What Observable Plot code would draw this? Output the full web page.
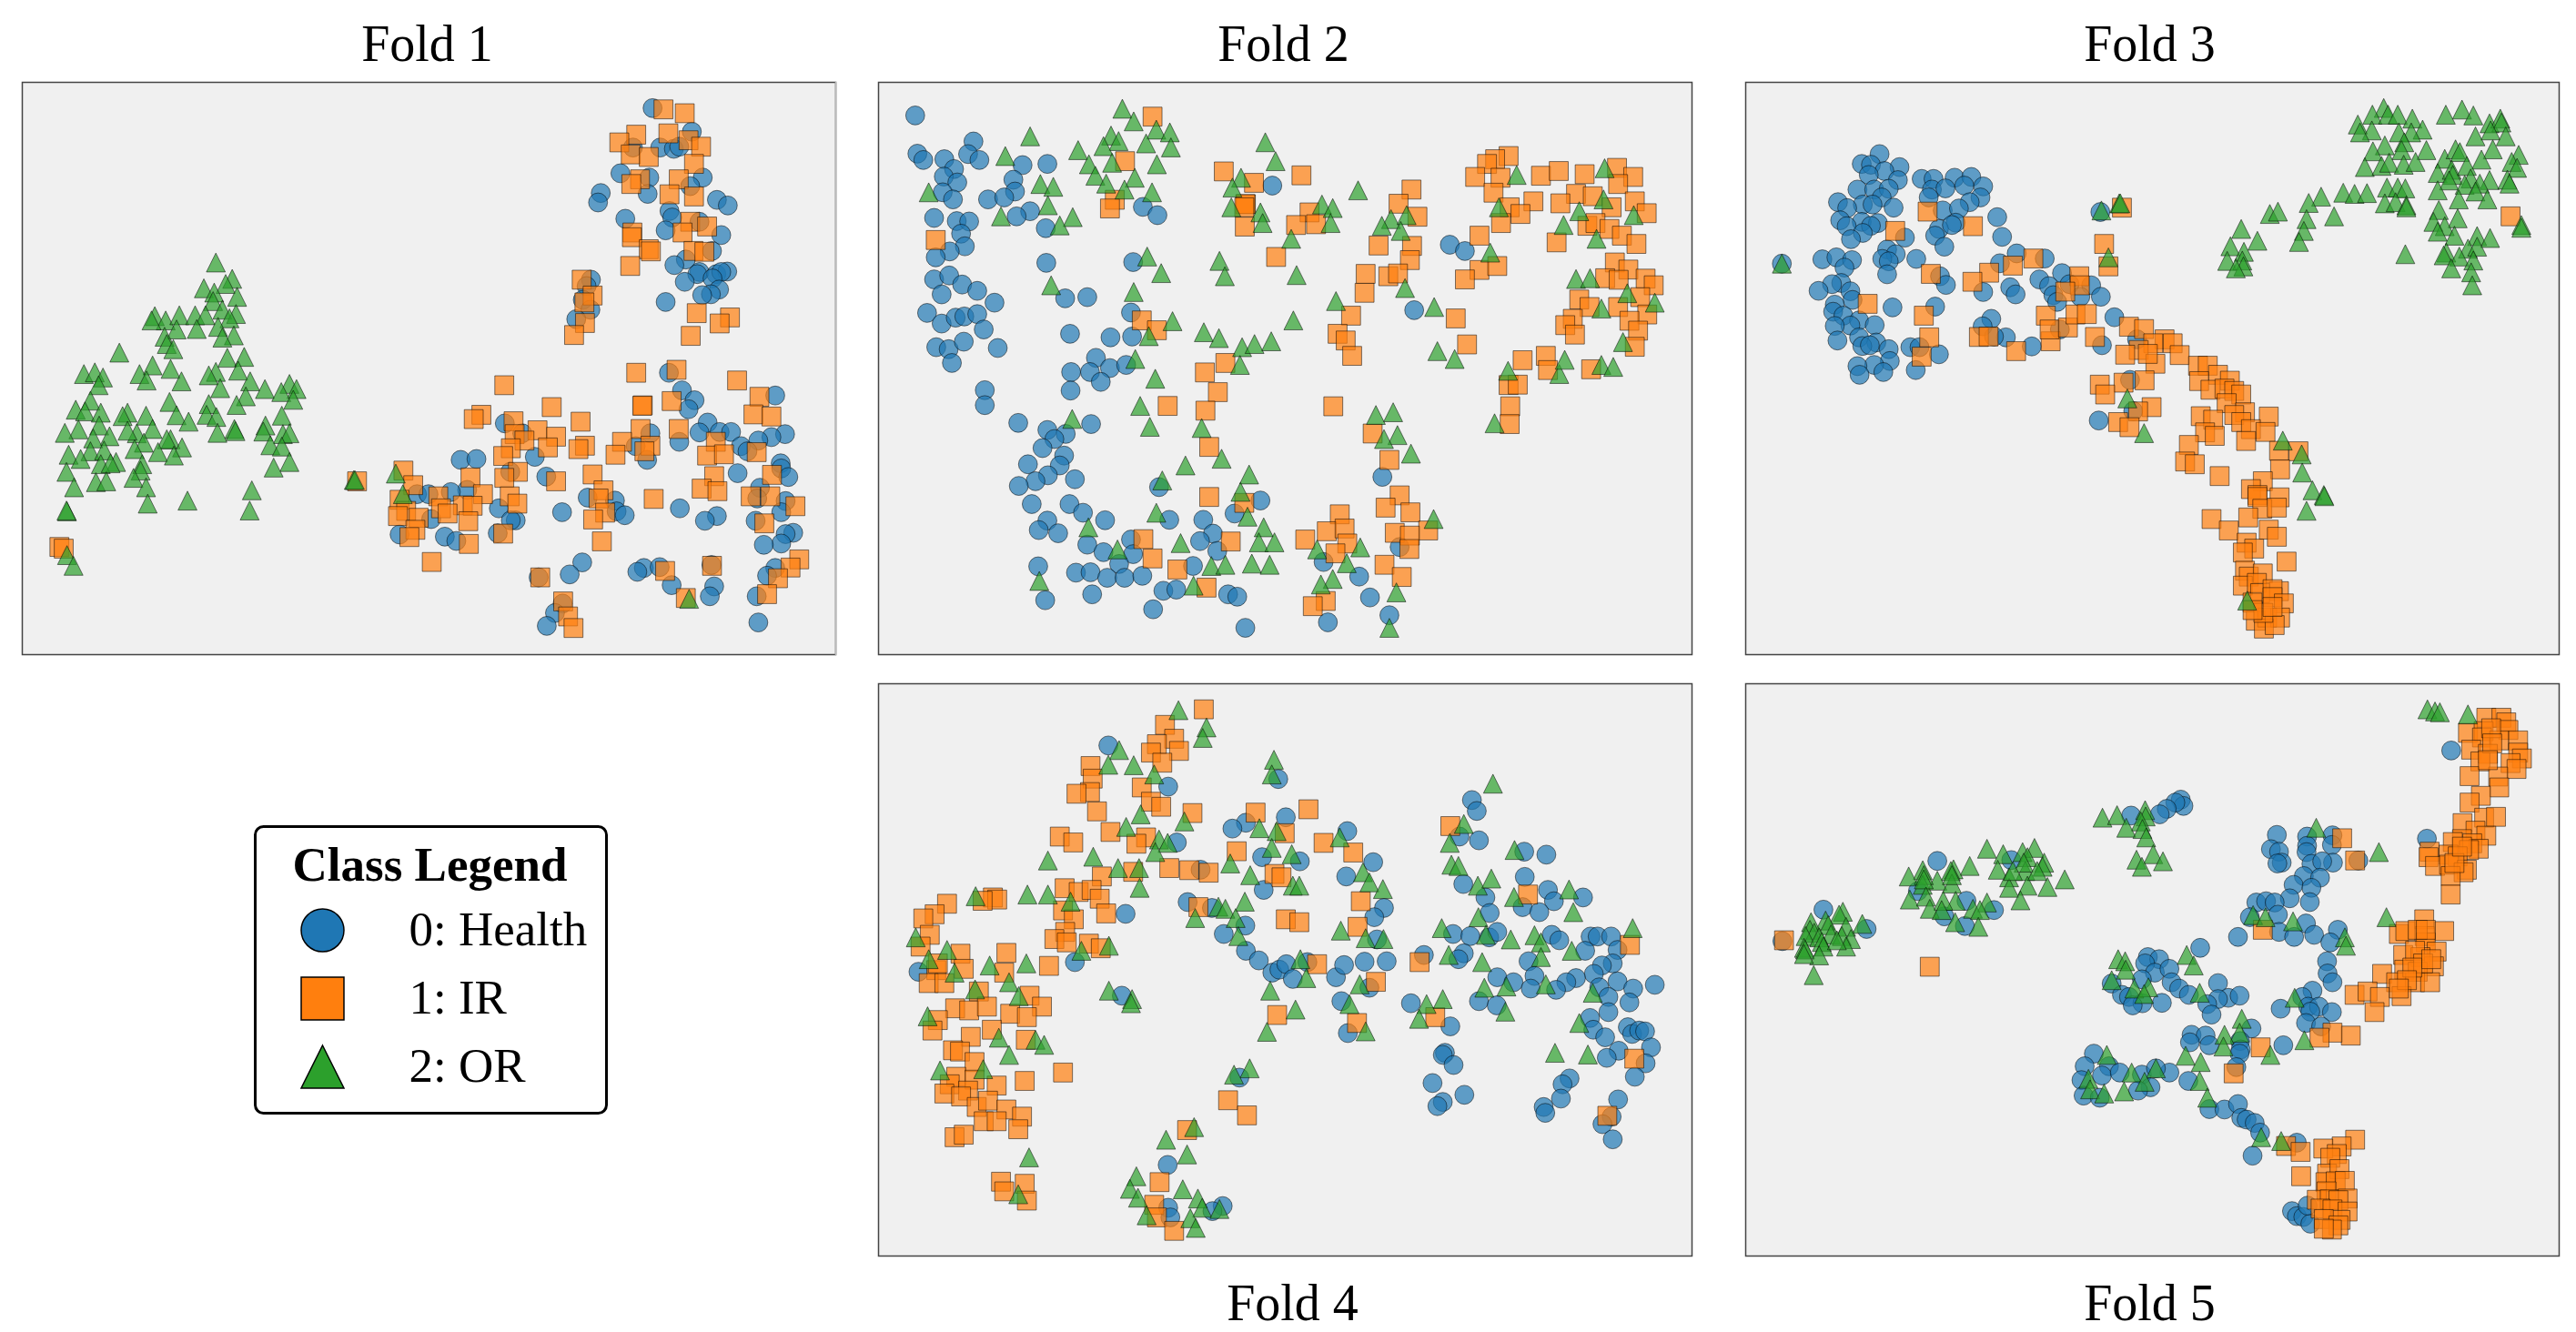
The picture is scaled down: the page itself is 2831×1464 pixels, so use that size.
<!DOCTYPE html>
<html>
<head>
<meta charset="utf-8">
<script src="https://cdn.jsdelivr.net/npm/d3@7"></script>
<script src="https://cdn.jsdelivr.net/npm/@observablehq/plot@0.6"></script>
<style>
html,body{margin:0;padding:0;background:#fff;}
#page{position:relative;width:2831px;height:1464px;overflow:hidden;}
#page>div{position:absolute;}
</style>
</head>
<body>
<div id="page"></div>
<script>
// Data, one list per fold and class.
const fold1Health=[[1196,250],[1268,305],[1210,342],[1235,345],[1245,340],[1160,342],[1137,402],[1190,412],[1288,412],[1265,432],[1187,450],[1101,448],[1096,470],[1314,464],[1334,477],[1227,490],[1232,505],[1146,508],[1220,535],[1282,515],[1322,546],[1305,583],[1257,603],[1236,616],[1282,632],[1278,637],[1313,637],[1333,631],[1322,632],[1255,655],[1306,647],[1318,673],[1303,684],[1287,686],[1220,702],[1083,650],[1075,665],[1068,697],[1082,720],[1056,742],[1226,867],[1250,908],[1273,931],[1262,952],[1421,920],[925,985],[957,1008],[1192,1008],[1297,983],[1282,1006],[1319,1005],[1340,1005],[1439,1010],[1414,1017],[1390,1025],[1245,1028],[1165,1038],[1358,1038],[1370,1050],[1186,1070],[844,1070],[873,1068],[980,1063],[1431,1078],[1432,1090],[1352,1101],[935,1098],[1001,1109],[1445,1110],[1393,1135],[1388,1160],[856,1140],[764,1150],[785,1150],[826,1145],[1440,1166],[1077,1158],[1127,1165],[1130,1190],[914,1183],[1030,1192],[1246,1183],[1145,1199],[1314,1201],[1292,1212],[1432,1192],[1385,1212],[790,1208],[945,1211],[936,1211],[912,1241],[732,1244],[815,1249],[836,1259],[1454,1240],[1440,1243],[1432,1265],[1400,1268],[1067,1309],[1044,1337],[987,1344],[1180,1322],[1168,1331],[1209,1320],[1231,1362],[1304,1315],[1309,1365],[1301,1388],[1421,1322],[1406,1340],[1387,1388],[1031,1405],[1017,1427],[1002,1457],[1390,1449]];
const fold1IR=[[1216,253],[1255,262],[1166,312],[1135,330],[1225,309],[1262,325],[1285,340],[1156,358],[1189,364],[1272,380],[1173,416],[1157,427],[1244,416],[1227,451],[1272,456],[1265,515],[1296,526],[1159,540],[1158,551],[1251,540],[1189,579],[1193,584],[1271,583],[1291,585],[1155,618],[1066,650],[1086,687],[1071,703],[1072,751],[1052,779],[1277,728],[1338,738],[1319,752],[1266,781],[1240,860],[1166,867],[1351,885],[924,896],[1392,923],[1231,933],[882,965],[868,975],[1011,947],[1178,943],[1177,944],[1381,964],[1414,969],[941,980],[1064,981],[985,1001],[1244,998],[1174,998],[1019,1016],[943,1010],[961,1025],[1312,1028],[1140,1028],[936,1043],[1004,1041],[1072,1037],[1060,1045],[1192,1037],[1181,1050],[1128,1058],[922,1061],[1296,1060],[1327,1057],[1387,1052],[739,1095],[949,1098],[924,1112],[862,1111],[1086,1104],[1019,1120],[1415,1105],[1309,1108],[757,1129],[1106,1141],[1286,1137],[1315,1143],[1376,1155],[1412,1155],[934,1155],[885,1150],[803,1155],[1097,1160],[732,1163],[948,1172],[1458,1178],[848,1176],[866,1177],[808,1183],[820,1195],[1198,1161],[1109,1193],[744,1189],[729,1201],[767,1205],[858,1213],[1087,1209],[1401,1218],[761,1233],[750,1250],[922,1242],[859,1266],[1103,1260],[791,1308],[990,1344],[1465,1302],[1449,1321],[1426,1346],[1219,1329],[1305,1317],[1406,1383],[1257,1392],[1032,1400],[1041,1435],[1051,1462],[108,1273],[116,1277],[654,1120]];
const fold1OR=[[395,610],[425,648],[413,660],[373,670],[434,690],[392,680],[390,700],[407,720],[283,735],[303,745],[328,733],[277,745],[357,733],[376,733],[432,730],[420,740],[323,766],[360,765],[399,760],[301,783],[428,780],[407,785],[305,800],[317,812],[218,820],[416,832],[447,830],[279,850],[312,858],[255,870],[268,885],[395,865],[382,873],[436,862],[153,870],[173,866],[188,878],[332,887],[458,887],[485,905],[180,896],[403,903],[530,893],[543,905],[515,912],[537,930],[450,922],[433,942],[310,935],[165,932],[138,953],[155,957],[184,960],[382,940],[233,960],[224,968],[267,967],[378,965],[396,970],[516,967],[323,966],[345,981],[181,990],[143,999],[118,1007],[279,998],[250,1008],[233,1002],[429,998],[431,1003],[398,1007],[486,990],[482,1004],[200,1015],[170,1020],[518,1010],[530,1008],[263,1030],[312,1022],[305,1022],[333,1041],[246,1045],[495,1036],[516,1039],[125,1058],[165,1050],[190,1048],[147,1068],[289,1052],[318,1060],[212,1075],[184,1080],[202,1078],[260,1080],[530,1075],[501,1088],[121,1098],[257,1095],[244,1112],[175,1122],[194,1120],[135,1134],[267,1134],[461,1141],[270,1172],[343,1165],[122,1190],[121,1188],[457,1188],[122,1292],[134,1317],[648,1117],[650,1117],[725,1102],[738,1150],[1263,1394]];

const fold2Health=[[93,152],[201,218],[97,249],[108,265],[147,263],[191,250],[212,265],[165,288],[146,307],[171,322],[292,278],[338,275],[275,315],[278,345],[144,347],[163,365],[228,365],[258,360],[128,412],[170,420],[193,421],[306,395],[281,408],[335,438],[515,384],[542,405],[755,330],[178,452],[185,484],[157,497],[131,512],[336,526],[497,524],[128,568],[156,558],[180,581],[142,606],[208,597],[240,627],[371,616],[412,613],[115,653],[142,680],[168,665],[184,662],[208,656],[220,695],[493,652],[380,706],[455,715],[495,713],[132,740],[155,745],[183,726],[246,742],[161,780],[428,767],[382,803],[417,803],[454,793],[484,785],[437,828],[381,850],[222,849],[222,887],[284,932],[338,950],[419,935],[372,960],[351,973],[329,996],[369,1015],[302,1037],[361,1040],[339,1065],[316,1080],[389,1075],[285,1092],[309,1138],[379,1138],[404,1160],[445,1179],[338,1180],[322,1204],[358,1212],[545,1095],[733,1129],[685,1162],[564,1178],[627,1178],[645,1213],[621,1232],[493,1228],[497,1265],[412,1241],[442,1260],[653,1257],[471,1290],[608,1295],[321,1296],[391,1312],[418,1311],[449,1325],[481,1325],[514,1320],[553,1358],[577,1355],[673,1367],[690,1373],[421,1367],[334,1382],[534,1405],[705,1452],[850,1285],[916,1322],[936,1375],[858,1438],[972,1420],[991,1247],[959,1069],[1018,646],[1084,480],[1112,496]];
const fold2IR=[[533,155],[482,268],[665,294],[721,323],[809,304],[463,366],[454,388],[706,377],[705,377],[703,385],[824,398],[799,430],[836,428],[704,434],[131,468],[762,511],[1013,340],[989,376],[1024,409],[952,482],[1014,483],[1010,519],[928,554],[970,560],[988,553],[926,602],[901,660],[513,672],[541,697],[876,706],[891,723],[903,762],[1095,667],[1116,733],[668,780],[630,804],[654,854],[561,889],[631,901],[868,890],[941,959],[638,993],[972,1026],[991,1116],[965,1147],[638,1120],[703,1135],[1011,1159],[880,1164],[856,1207],[889,1200],[894,1238],[816,1228],[678,1233],[516,1227],[533,1276],[872,1263],[579,1304],[1044,1205],[982,1211],[1010,1218],[1009,1252],[963,1292],[995,1323],[633,1350],[854,1384],[830,1397],[1193,255],[1168,263],[1153,275],[1131,308],[1178,310],[1165,348],[1253,305],[1286,293],[1334,301],[1394,285],[1424,308],[1396,326],[1318,351],[1349,357],[1239,370],[1289,375],[1195,385],[1427,370],[1384,385],[1215,402],[1449,400],[1179,425],[1339,432],[1354,425],[1380,440],[1403,457],[1282,474],[1430,478],[1139,457],[1390,525],[1415,543],[1139,544],[1172,534],[1112,568],[1372,565],[1397,569],[1447,566],[1462,583],[1437,613],[1324,619],[1343,638],[1396,638],[1450,657],[1417,673],[1312,668],[1298,684],[1433,698],[1316,708],[1427,739],[1219,773],[1262,762],[1266,798],[1346,796],[1193,836],[1210,835],[1196,890],[1195,935]];
const fold2OR=[[477,135],[498,167],[540,188],[565,195],[306,205],[456,203],[470,217],[442,230],[395,240],[521,223],[567,233],[260,255],[415,276],[458,272],[541,276],[427,305],[500,310],[325,326],[349,333],[447,325],[481,340],[532,347],[118,347],[339,380],[385,410],[252,408],[361,431],[742,220],[761,268],[697,310],[681,335],[679,385],[733,398],[737,425],[847,378],[867,387],[863,425],[914,342],[790,465],[975,415],[1004,405],[958,432],[993,445],[523,510],[549,552],[657,521],[667,560],[800,557],[1001,590],[345,583],[498,600],[873,623],[1055,638],[570,674],[794,672],[628,702],[656,717],[526,712],[699,740],[722,732],[753,725],[501,770],[695,785],[538,820],[510,889],[528,942],[384,922],[624,945],[947,912],[979,905],[987,963],[962,973],[1012,1010],[661,1023],[594,1040],[712,1063],[551,1078],[696,1107],[540,1160],[709,1170],[739,1197],[414,1197],[1054,1176],[585,1237],[730,1235],[759,1235],[468,1253],[918,1248],[838,1253],[642,1295],[668,1292],[717,1289],[750,1292],[893,1288],[867,1328],[323,1333],[609,1345],[845,1342],[985,1362],[972,1452],[1061,750],[1093,770],[1192,800],[1287,808],[1297,772],[1167,933],[1159,500],[1208,303],[1371,286],[1175,385],[1369,365],[1324,395],[1425,405],[1295,430],[1356,465],[1318,567],[1344,565],[1413,603],[1464,627],[1365,642],[1405,727],[1365,785],[1387,790]];

const fold3Health=[[278,250],[245,275],[262,277],[315,283],[287,293],[258,303],[312,316],[356,313],[378,313],[417,310],[448,308],[237,340],[268,340],[295,338],[282,360],[375,340],[400,337],[435,330],[470,332],[201,372],[247,378],[265,378],[218,387],[304,386],[369,360],[465,360],[445,372],[395,393],[425,388],[205,418],[245,422],[275,425],[217,433],[262,432],[419,424],[496,410],[388,440],[412,430],[247,450],[381,457],[225,466],[325,462],[505,460],[398,485],[292,492],[308,504],[172,517],[198,512],[227,519],[283,516],[295,522],[346,516],[532,502],[584,515],[501,527],[213,538],[292,555],[390,560],[616,552],[207,577],[190,580],[165,597],[224,598],[574,568],[401,582],[470,600],[520,588],[530,606],[592,585],[630,580],[600,608],[670,583],[688,612],[228,620],[650,612],[607,625],[381,637],[302,639],[195,632],[192,650],[211,660],[240,672],[224,685],[195,686],[269,684],[485,668],[469,687],[612,695],[713,664],[200,723],[240,715],[272,728],[246,737],[260,735],[295,745],[512,715],[490,713],[560,738],[335,740],[352,740],[388,758],[297,775],[268,785],[237,788],[285,803],[241,810],[345,798],[755,720],[690,735],[742,823],[748,902],[684,926],[687,397],[97,528]];
const fold3IR=[[367,396],[307,445],[451,433],[373,554],[481,551],[450,574],[525,533],[563,515],[648,560],[649,583],[622,599],[586,660],[256,630],[360,660],[370,715],[356,764],[462,714],[480,713],[531,750],[595,725],[593,695],[627,690],[641,657],[662,656],[677,714],[727,386],[694,478],[702,535],[740,688],[768,694],[806,720],[821,730],[785,730],[758,747],[733,759],[834,760],[789,782],[775,757],[868,787],[886,787],[905,810],[927,825],[870,826],[891,848],[917,845],[935,851],[948,860],[921,882],[955,905],[935,912],[948,930],[769,824],[730,830],[686,835],[696,860],[782,892],[757,903],[720,930],[741,943],[873,915],[896,924],[881,956],[899,965],[999,916],[966,948],[993,955],[957,978],[851,988],[1018,1003],[1054,1004],[844,1030],[862,1037],[1020,1050],[908,1067],[988,1080],[966,1100],[978,1115],[1019,1121],[978,1120],[987,1150],[1014,1147],[893,1176],[961,1172],[925,1205],[999,1203],[1014,1221],[958,1236],[972,1251],[951,1261],[1032,1284],[955,1307],[962,1322],[988,1314],[951,1345],[977,1338],[1018,1359],[983,1364],[1006,1354],[1006,1374],[1027,1390],[969,1388],[975,1434],[996,1426],[1020,1426],[990,1454],[1010,1445],[989,1414],[969,1407],[1006,1399],[1447,408]];
const fold3OR=[[1212,133],[1191,150],[1220,150],[1238,150],[1265,160],[1164,175],[1190,190],[1168,195],[1284,188],[1263,195],[1240,195],[1327,150],[1357,137],[1378,152],[1408,172],[1428,160],[1430,170],[1382,205],[1410,190],[1438,205],[1214,228],[1192,243],[1250,220],[1245,240],[1291,240],[1414,238],[1462,252],[1177,283],[1208,280],[1222,272],[1249,277],[1271,270],[1325,262],[1345,238],[1353,245],[1393,264],[1449,270],[1459,285],[1312,298],[1338,290],[1366,280],[1340,303],[1333,317],[1373,312],[1408,316],[1441,315],[1445,325],[1137,348],[1158,351],[1181,349],[1218,335],[1238,335],[1252,337],[1312,342],[1362,328],[1390,325],[1382,345],[1096,358],[1073,374],[1214,375],[1234,372],[1254,380],[1404,365],[1351,365],[1254,385],[1001,402],[1016,396],[1069,415],[1120,408],[1314,392],[1349,413],[1304,422],[1325,433],[1312,447],[1343,457],[1064,445],[1055,473],[948,440],[978,470],[1385,458],[1409,463],[1368,490],[1385,485],[1252,504],[928,484],[953,498],[1328,500],[1323,507],[1352,510],[1378,520],[922,521],[950,520],[952,535],[938,540],[1337,540],[1374,550],[1376,583],[1467,430],[1467,437],[722,375],[724,375],[689,393],[97,528],[702,512],[737,870],[768,958],[1025,977],[1060,1012],[1061,1058],[1080,1103],[1101,1115],[1102,1118],[1069,1155],[959,1383]];

const fold4Health=[[451,171],[562,269],[766,251],[1125,301],[1134,327],[706,355],[681,369],[780,342],[894,375],[1102,388],[1138,397],[578,402],[736,437],[806,447],[942,449],[892,483],[1222,424],[1263,431],[1223,484],[1109,501],[739,515],[1266,515],[1150,533],[1331,533],[1277,542],[1219,556],[1250,568],[1158,570],[598,544],[622,467],[643,558],[962,558],[944,580],[483,572],[705,600],[665,620],[1090,620],[1122,625],[1157,628],[1172,615],[1273,622],[1287,635],[1345,626],[1358,626],[1383,626],[1335,660],[1395,658],[949,633],[1110,666],[1100,680],[1036,670],[706,660],[730,683],[755,712],[768,705],[781,692],[793,727],[820,687],[873,723],[888,694],[926,686],[967,685],[1230,685],[1386,690],[1366,695],[1351,715],[1241,720],[1172,723],[1202,735],[1318,725],[1300,735],[1395,733],[1281,753],[1234,750],[935,748],[1361,747],[1424,750],[1464,741],[1378,770],[1138,780],[1171,790],[1012,785],[883,780],[1417,783],[1378,806],[1344,820],[1085,840],[1350,848],[895,856],[1372,866],[1414,842],[1422,858],[1435,850],[1446,852],[1457,890],[1075,903],[1071,908],[1397,898],[1375,915],[1091,932],[1447,928],[1427,960],[1306,964],[1293,978],[1052,975],[1290,1012],[1396,1014],[1111,1003],[1071,1020],[1061,1030],[1258,1032],[1261,1046],[1384,1055],[1367,1073],[1386,1109],[694,962],[389,687],[99,710],[476,767],[561,1170],[562,1272],[566,1295],[663,1268],[644,1280]];
const fold4IR=[[628,85],[556,122],[573,155],[541,168],[530,188],[582,184],[551,212],[418,220],[422,250],[417,282],[392,286],[513,271],[530,305],[549,317],[430,328],[607,332],[724,331],[822,323],[778,380],[455,377],[361,388],[386,402],[521,390],[503,405],[850,403],[905,426],[1085,363],[689,423],[564,463],[601,468],[637,474],[497,472],[439,483],[759,477],[772,485],[370,511],[396,520],[420,515],[435,536],[237,533],[245,538],[218,541],[152,548],[129,573],[108,583],[919,542],[447,571],[618,556],[367,564],[387,585],[1229,526],[780,585],[805,592],[371,615],[351,632],[374,640],[415,643],[437,654],[913,603],[120,622],[103,650],[177,667],[262,665],[1418,646],[341,696],[838,692],[1028,687],[132,706],[135,690],[183,703],[258,712],[118,737],[147,737],[947,734],[211,757],[305,767],[328,793],[167,797],[193,802],[226,793],[269,810],[300,818],[764,813],[912,832],[1057,818],[135,825],[125,850],[235,848],[196,865],[298,872],[163,897],[176,900],[203,925],[367,950],[296,970],[169,960],[157,978],[203,967],[244,981],[147,1000],[191,993],[178,1007],[207,1032],[228,1017],[262,1038],[291,1055],[220,1066],[244,1066],[284,1085],[166,1104],[183,1098],[673,1016],[708,1052],[597,1087],[1376,1053],[1426,917],[252,1210],[296,1215],[258,1233],[300,1255],[546,1211],[536,1265],[541,1295],[573,1327]];
const fold4OR=[[581,87],[633,128],[626,153],[471,182],[758,205],[754,240],[451,217],[498,218],[536,240],[511,335],[484,365],[592,352],[731,368],[763,375],[1164,262],[1110,358],[1084,403],[545,395],[561,403],[538,425],[880,390],[754,415],[791,430],[677,452],[339,445],[423,436],[469,463],[508,463],[1087,455],[1100,458],[1204,420],[509,510],[714,480],[923,473],[935,497],[960,513],[793,505],[805,505],[1136,505],[1161,488],[1203,532],[1305,514],[1313,568],[205,530],[301,526],[339,526],[381,543],[704,543],[655,555],[668,560],[612,582],[687,582],[1137,580],[1069,606],[882,612],[692,625],[1423,606],[1151,622],[1197,633],[1241,623],[1253,640],[928,630],[961,632],[452,648],[401,660],[94,628],[152,658],[1310,660],[1082,670],[1253,675],[118,680],[807,680],[231,695],[299,690],[1144,687],[166,712],[818,725],[267,735],[204,752],[917,740],[751,755],[285,768],[1349,760],[1148,748],[1189,745],[1262,740],[452,755],[495,775],[493,785],[898,787],[1041,787],[1071,775],[798,800],[116,816],[1027,822],[1187,805],[1324,832],[745,853],[928,852],[316,872],[332,884],[248,867],[267,908],[1279,903],[1340,907],[219,942],[139,945],[713,940],[684,955],[610,1080],[558,1110],[597,1145],[304,1152],[503,1197],[491,1227],[589,1228],[506,1248],[617,1250],[284,1240],[625,1272],[657,1275],[522,1290],[603,1297],[613,1320]];

const fold5Health=[[836,300],[841,315],[826,307],[810,322],[797,335],[744,338],[1117,385],[1014,384],[1070,388],[1003,418],[1018,424],[1070,410],[1069,425],[1116,408],[1023,450],[1015,452],[1165,445],[1118,450],[1078,453],[1098,447],[1337,183],[1292,393],[385,446],[522,444],[1064,482],[1094,486],[1045,503],[1078,510],[1038,535],[1075,544],[976,545],[994,542],[1010,545],[964,580],[1016,574],[942,627],[1018,615],[1046,627],[1068,595],[1083,622],[1127,610],[1113,640],[349,518],[439,541],[490,563],[398,578],[436,601],[174,562],[254,608],[98,637],[872,653],[775,675],[796,680],[770,690],[788,712],[815,703],[764,728],[1107,685],[1108,714],[1117,735],[708,738],[727,765],[905,737],[740,770],[819,735],[833,750],[851,765],[924,772],[945,767],[905,775],[885,787],[893,812],[801,784],[765,785],[747,790],[1080,755],[1061,770],[1021,798],[1072,793],[1092,793],[1076,805],[1116,806],[1068,832],[1096,840],[967,845],[856,860],[882,862],[853,878],[889,885],[946,875],[947,895],[945,905],[1026,885],[675,905],[658,935],[703,935],[690,957],[723,950],[652,968],[764,955],[815,950],[790,940],[850,970],[939,937],[780,985],[757,993],[656,1005],[686,1010],[889,1037],[917,1038],[942,1025],[948,1058],[958,1062],[973,1070],[983,1093],[969,1148],[1051,1117],[1042,1280],[1051,1292],[1063,1294],[1076,1310],[1071,1267]];
const fold5IR=[[1402,105],[1430,105],[1439,116],[1443,134],[1368,141],[1397,137],[1394,152],[1426,159],[1461,159],[1374,181],[1405,191],[1461,188],[1468,202],[1391,209],[1447,213],[1458,227],[1371,244],[1424,245],[1426,271],[1392,291],[1371,307],[1398,343],[1420,341],[1358,356],[1382,374],[1402,386],[1357,394],[1340,401],[1376,404],[1388,417],[1297,424],[1295,437],[1332,431],[1370,420],[1349,435],[1307,458],[1333,455],[1366,467],[1360,473],[1336,482],[1336,526],[1411,130],[1413,166],[1405,206],[1343,451],[1357,412],[1135,392],[1159,445],[1287,585],[1324,613],[1240,620],[1252,613],[1288,625],[1290,640],[1248,670],[1310,662],[1280,675],[1305,697],[1250,705],[1275,710],[1270,735],[1298,735],[1209,715],[1235,735],[1245,768],[1158,765],[1182,757],[1205,770],[1195,806],[1270,660],[1285,690],[1265,700],[1300,680],[1255,730],[1240,750],[1275,610],[1290,610],[1151,862],[1117,855],[1093,867],[984,890],[934,952],[988,610],[1159,1110],[1134,1126],[1100,1131],[1125,1144],[1113,1153],[1031,1125],[1058,1139],[1059,1197],[1107,1191],[1130,1180],[1104,1211],[1123,1209],[1140,1208],[1106,1233],[1088,1253],[1112,1252],[1145,1250],[1128,1254],[1095,1274],[1117,1276],[1145,1281],[1132,1301],[1101,1299],[1128,1314],[1116,1324],[1101,1322],[371,698],[101,635]];
const fold5OR=[[1293,85],[1307,90],[1316,92],[1368,97],[691,343],[718,337],[770,325],[771,340],[762,352],[735,367],[765,370],[772,390],[754,443],[785,430],[803,447],[764,460],[1087,367],[1203,425],[477,417],[507,430],[543,425],[565,415],[552,437],[583,450],[445,458],[415,466],[410,470],[358,468],[332,483],[385,493],[360,480],[497,467],[518,485],[548,470],[580,460],[412,500],[358,503],[621,490],[589,508],[552,505],[518,510],[539,540],[360,490],[412,480],[545,450],[525,470],[570,470],[334,538],[419,541],[396,541],[364,531],[477,545],[371,560],[393,563],[451,560],[464,563],[418,592],[461,603],[210,567],[203,574],[178,588],[246,596],[151,592],[183,599],[216,603],[149,610],[188,621],[157,617],[141,625],[166,628],[208,625],[225,632],[171,639],[138,653],[140,657],[216,650],[174,650],[166,671],[138,668],[156,718],[199,635],[970,575],[993,580],[1044,590],[1217,580],[1140,628],[1142,648],[720,680],[733,685],[734,705],[847,670],[860,695],[708,730],[750,750],[776,747],[768,763],[871,760],[1047,772],[949,822],[945,855],[917,860],[915,888],[1065,873],[1002,908],[699,908],[845,910],[873,925],[790,940],[745,950],[665,965],[769,972],[668,990],[694,1000],[731,995],[871,970],[885,1010],[985,1104],[1022,1113]];

const foldNames=["Fold 1","Fold 2","Fold 3","Fold 4","Fold 5"];
const classLabels=["0: Health","1: IR","2: OR"];
const classColors=["#1f77b4","#ff7f0e","#2ca02c"];

// Custom marker shapes: half-width equals the dot's r, as matplotlib markers.
const half=s=>Math.sqrt(s/Math.PI);
const circleSym={draw(c,s){const r=half(s);c.moveTo(r,0);c.arc(0,0,r,0,2*Math.PI);c.closePath();}};
const squareSym={draw(c,s){const r=half(s);c.rect(-r,-r,2*r,2*r);}};
const triangleSym={draw(c,s){const r=half(s);c.moveTo(0,-r);c.lineTo(r,r);c.lineTo(-r,r);c.closePath();}};

const FONT="Liberation Serif";
const panels=[
 {f:0,h:fold1Health,i:fold1IR,o:fold1OR,left:24,top:90,xd:[40,1532],yd:[1524,190],pos:"top",dx:-2},
 {f:1,h:fold2Health,i:fold2IR,o:fold2OR,left:965,top:90,xd:[25,1533],yd:[1520,68],pos:"top",dx:-2},
 {f:2,h:fold3Health,i:fold3IR,o:fold3OR,left:1918,top:90,xd:[30,1537],yd:[1520,68],pos:"top",dx:-3},
 {f:3,h:fold4Health,i:fold4IR,o:fold4OR,left:965,top:751,xd:[25,1533],yd:[1387,24],pos:"bottom",dx:8},
 {f:4,h:fold5Health,i:fold5IR,o:fold5OR,left:1918,top:751,xd:[30,1537],yd:[1387,24],pos:"bottom",dx:-3}
];
const W=894,H=629,TM=90,BM=84;
const page=document.getElementById("page");
const dotsOf=(d,sym,color)=>Plot.dot(d,{x:p=>p[0],y:p=>p[1],symbol:sym,r:10.4,fill:color,fillOpacity:0.7,stroke:"#000",strokeOpacity:0.5,strokeWidth:1});

for(const p of panels){
  const isTop=p.pos==="top";
  const chart=Plot.plot({
    width:W,height:H+(isTop?TM:BM),
    marginLeft:0,marginRight:0,
    marginTop:isTop?TM:0,marginBottom:isTop?0:BM,
    x:{domain:p.xd,axis:null},
    y:{domain:p.yd,axis:null},
    style:{background:"transparent",overflow:"visible"},
    marks:[
      Plot.frame({fill:"#f0f0f0",stroke:"#444",strokeWidth:1.5}),
      p.f===0?Plot.frame({anchor:"right",stroke:"#bdbdbd",strokeWidth:1.5}):null,
      dotsOf(p.h,circleSym,classColors[0]),
      dotsOf(p.i,squareSym,classColors[1]),
      dotsOf(p.o,triangleSym,classColors[2]),
      Plot.text([foldNames[p.f]],{
        frameAnchor:isTop?"top":"bottom",
        lineAnchor:"bottom",
        dy:isTop?-24:70,dx:p.dx,
        fontSize:56,fontFamily:FONT,fill:"#000"
      })
    ]
  });
  const div=document.createElement("div");
  div.style.left=p.left+"px";
  div.style.top=(isTop?p.top-TM:p.top)+"px";
  div.appendChild(chart);
  page.appendChild(div);
}

// Legend box
const legend=Plot.plot({
  width:386,height:315,margin:0,
  x:{axis:null},
  y:{type:"point",domain:classLabels,range:[114,264],padding:0,axis:null},
  style:{background:"transparent",overflow:"visible"},
  marks:[
    Plot.frame({fill:"#fff",stroke:"#000",strokeWidth:3,rx:9}),
    Plot.text(["Class Legend"],{frameAnchor:"top",dy:43,fontSize:53,fontWeight:"bold",fontFamily:FONT,fill:"#000",lineAnchor:"middle",dx:-1}),
    Plot.dot([classLabels[0]],{y:d=>d,frameAnchor:"left",dx:74,symbol:circleSym,r:23.5,fill:classColors[0],stroke:"#000",strokeWidth:1.5}),
    Plot.dot([classLabels[1]],{y:d=>d,frameAnchor:"left",dx:74,symbol:squareSym,r:23.5,fill:classColors[1],stroke:"#000",strokeWidth:1.5}),
    Plot.dot([classLabels[2]],{y:d=>d,frameAnchor:"left",dx:74,symbol:triangleSym,r:23.5,fill:classColors[2],stroke:"#000",strokeWidth:1.5}),
    Plot.text(classLabels,{y:d=>d,text:d=>d,frameAnchor:"left",dx:169,textAnchor:"start",fontSize:53,fontFamily:FONT,fill:"#000"})
  ]
});
const ld=document.createElement("div");
ld.style.left="280px";ld.style.top="908px";
ld.appendChild(legend);
page.appendChild(ld);
</script>
</body>
</html>
